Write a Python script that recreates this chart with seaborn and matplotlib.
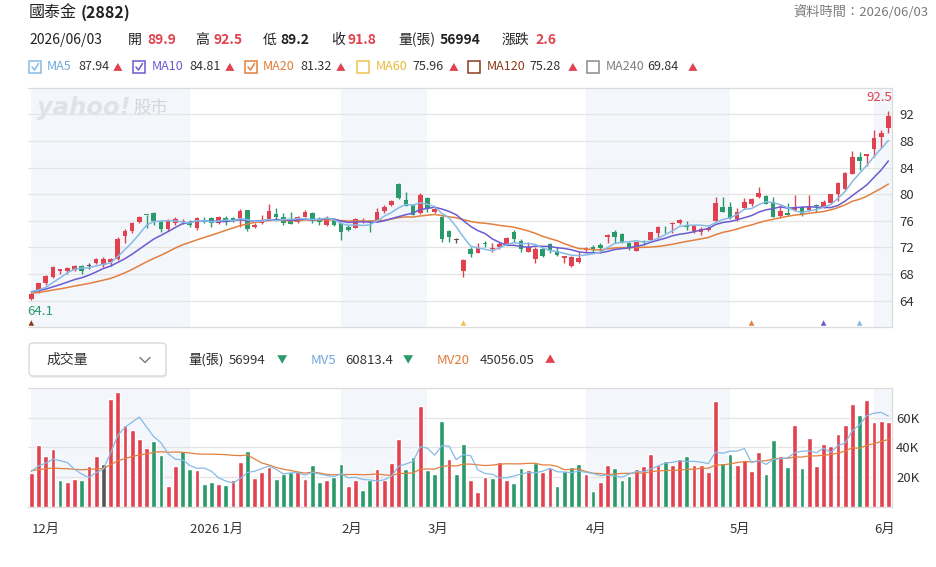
import numpy as np
import pandas as pd
import matplotlib
matplotlib.use("Agg")
import matplotlib.pyplot as plt
import matplotlib.transforms as mtransforms
from matplotlib.patches import Rectangle, FancyBboxPatch
from matplotlib.lines import Line2D
import seaborn as sns

# ---------------- data ----------------
open_ = [64.3, 65.4, 66.7, 67.5, 68.5, 68.4, 68.6, 69.15, 69.2, 69.6,
         69.3, 69.8, 70.2, 73.7, 74.5, 75.75, 76.9, 77.1, 75.8, 74.7,
         75.6, 75.75, 75.6, 74.85, 76.1, 76.45, 75.6, 76.45, 76.45, 76.35,
         77.6, 75.0, 75.6, 76.2, 77.0, 76.6, 76.1, 75.85, 76.6, 77.1,
         76.2, 75.35, 76.1, 75.7, 75.1, 74.95, 75.9, 76.0, 76.1, 77.5,
         78.4, 81.5, 79.2, 78.4, 77.1, 79.5, 77.3, 76.5, 74.45, 73.1,
         68.4, 71.75, 71.2, 72.65, 71.8, 72.1, 72.5, 74.25, 73.0, 71.35,
         70.2, 71.8, 72.45, 71.45, 70.45, 69.2, 69.85, 71.6, 72.1, 72.35,
         73.6, 74.35, 73.95, 72.6, 71.5, 72.9, 73.1, 74.1, 74.8, 75.45,
         75.6, 75.4, 74.5, 74.25, 74.65, 76.0, 78.15, 78.0, 76.25, 77.9,
         78.5, 79.6, 79.75, 78.9, 76.75, 77.1, 77.6, 78.1, 77.6, 78.25,
         78.0, 78.65, 80.0, 80.75, 83.1, 85.65, 85.75, 86.85, 88.6, 89.9]
high = [65.1, 66.7, 67.8, 69.2, 68.8, 69.0, 69.3, 69.3, 69.6, 70.4,
        70.6, 70.35, 73.5, 74.7, 75.85, 76.7, 76.9, 77.3, 76.1, 76.2,
        76.5, 76.2, 76.1, 76.6, 76.6, 76.6, 76.7, 76.7, 76.6, 77.7,
        77.6, 75.6, 76.85, 78.5, 77.85, 77.1, 77.3, 76.7, 77.6, 77.35,
        76.6, 76.7, 76.35, 75.85, 75.35, 76.45, 76.35, 76.1, 77.85, 78.35,
        79.2, 81.7, 80.35, 78.6, 80.2, 79.6, 78.2, 76.7, 74.6, 73.45,
        70.3, 72.1, 72.7, 73.0, 72.6, 72.85, 73.5, 74.6, 73.2, 72.75,
        72.1, 71.85, 72.6, 72.1, 70.75, 70.7, 71.35, 72.1, 72.35, 72.6,
        73.95, 74.6, 74.1, 72.85, 72.85, 73.1, 74.35, 75.2, 75.2, 75.75,
        76.3, 75.9, 75.25, 75.0, 75.15, 79.65, 79.65, 78.85, 77.85, 79.4,
        79.4, 81.1, 79.9, 79.6, 78.4, 78.75, 79.85, 78.25, 79.85, 78.5,
        79.1, 80.1, 81.9, 83.35, 86.5, 86.4, 86.05, 89.6, 89.6, 92.5]
low = [64.1, 65.2, 66.4, 67.4, 68.0, 68.0, 68.5, 68.0, 68.7, 69.5,
       69.1, 69.2, 70.1, 72.7, 74.1, 75.6, 74.85, 75.35, 74.35, 74.5,
       75.35, 75.45, 75.1, 74.6, 75.7, 75.0, 75.45, 75.35, 75.8, 75.1,
       74.5, 74.85, 75.5, 76.1, 76.2, 75.35, 75.45, 75.7, 76.5, 75.6,
       75.35, 75.25, 75.25, 73.1, 74.5, 74.85, 75.6, 74.35, 76.0, 77.2,
       78.2, 79.35, 78.2, 76.8, 77.0, 77.35, 77.1, 72.85, 72.85, 72.7,
       67.5, 70.6, 71.1, 72.1, 71.35, 71.7, 72.35, 72.85, 71.35, 71.25,
       69.7, 70.6, 71.2, 70.7, 69.6, 69.1, 69.7, 71.35, 71.2, 71.2,
       72.6, 72.6, 72.6, 71.6, 71.45, 72.3, 72.95, 73.35, 74.1, 74.1,
       75.45, 74.6, 74.1, 73.9, 74.5, 75.9, 77.25, 76.25, 76.0, 77.75,
       78.25, 79.5, 78.5, 76.5, 76.4, 76.85, 77.4, 76.75, 77.5, 77.25,
       77.9, 78.5, 79.0, 80.6, 83.0, 83.6, 84.25, 85.6, 87.0, 89.2]
close = [65.0, 66.6, 67.7, 69.0, 68.75, 68.95, 69.25, 68.5, 69.2, 70.2,
         70.2, 70.25, 73.25, 74.5, 75.6, 76.5, 76.85, 76.0, 74.8, 76.0,
         76.25, 76.0, 75.3, 76.45, 76.0, 75.6, 76.5, 76.0, 76.1, 77.5,
         74.7, 75.35, 76.1, 77.4, 76.6, 75.6, 75.5, 76.6, 77.25, 76.0,
         75.85, 76.45, 75.35, 74.35, 74.6, 76.2, 76.0, 75.85, 77.3, 78.1,
         79.0, 79.5, 78.3, 76.9, 79.85, 77.85, 77.75, 73.2, 73.6, 73.1,
         70.1, 71.0, 71.85, 72.55, 71.9, 72.45, 73.4, 73.3, 71.7, 72.1,
         71.75, 70.7, 71.5, 70.8, 70.7, 70.5, 70.35, 71.95, 71.75, 71.95,
         73.85, 73.5, 72.85, 72.1, 72.75, 72.8, 74.25, 75.0, 74.7, 75.7,
         76.15, 75.0, 75.15, 74.75, 74.95, 78.75, 77.35, 76.35, 77.35, 78.9,
         79.25, 80.25, 78.6, 76.6, 77.5, 76.9, 78.1, 77.0, 78.1, 78.2,
         78.9, 80.0, 81.75, 83.25, 85.65, 85.0, 86.0, 88.4, 89.2, 91.8]
# closes before the visible window (only used to start the moving averages)
prior_close = [64.2, 64.5, 64.9, 65.3, 65.0, 64.6, 64.8, 65.2, 65.5, 65.1,
               64.9, 65.3, 65.6, 65.4, 65.2, 65.5, 65.7, 65.3, 65.4]

# volume in thousands of 張
vol_k = [23.1, 41.6, 34.2, 38.9, 18.2, 16.9, 18.9, 18.2, 27.6, 34.2,
         28.7, 72.7, 77.1, 54.9, 51.6, 45.6, 39.8, 44.2, 34.9, 14.4,
         27.6, 37.6, 25.6, 24.9, 15.6, 16.9, 15.6, 14.9, 18.2, 30.2,
         37.6, 19.6, 23.6, 27.1, 18.9, 22.2, 23.3, 24.2, 18.9, 28.2,
         16.9, 18.2, 20.4, 28.9, 14.4, 18.2, 11.6, 18.2, 25.6, 18.2,
         29.8, 45.6, 25.6, 33.8, 67.8, 24.9, 22.2, 57.6, 32.2, 22.2,
         42.2, 18.2, 10.4, 20.0, 19.8, 30.4, 18.2, 16.4, 26.4, 24.9,
         29.3, 23.8, 26.4, 14.4, 24.2, 27.1, 28.9, 22.2, 10.9, 17.1,
         28.2, 26.4, 18.2, 21.1, 25.6, 27.6, 35.6, 28.2, 30.9, 28.2,
         32.2, 34.2, 28.2, 28.2, 23.3, 71.1, 29.8, 35.6, 28.2, 31.6,
         24.2, 37.1, 22.2, 44.9, 34.2, 26.9, 54.9, 26.4, 46.4, 27.8,
         42.2, 41.1, 48.9, 54.9, 69.3, 62.0, 71.6, 57.1, 57.6, 56.994]
prior_vol_k = [26.0, 22.5, 30.1, 24.8, 19.6, 27.3, 23.4, 21.8, 28.6, 25.2,
               20.7, 24.1, 26.9, 22.3, 25.5, 23.9, 24.6, 25.8, 23.0]
# volume bar colour: u = up (red), d = down (green), n = unchanged
vol_dir = list("uuuuduuduu" "nuuuuuuddu" "uddudduduu" "duuuddduud"
               "dudduudduu" "uuddudddud" "duuuduuddu" "duuddddudu"
               "uddduuuudu" "uduuuudduu" "uuddududuu" "uuuuuduuuu")

months = ["12月", "2026 1月", "2月", "3月", "4月", "5月", "6月"]
month_start = [0, 22, 43, 55, 77, 97, 117]
shaded_months = [0, 2, 4, 6]

price_ticks = [64, 68, 72, 76, 80, 84, 88, 92]
vol_ticks = [20, 40, 60]
vol_tick_labels = ["20K", "40K", "60K"]

signal_idx = [0, 60, 100, 110, 115]
signal_ma = ["MA120", "MA60", "MA20", "MA10", "MA5"]

stock_title = "國泰金"
stock_code = "(2882)"
data_time = "資料時間：2026/06/03"
quote_date = "2026/06/03"
quote_labels = ["開", "高", "低", "收", "量(張)", "漲跌"]
quote_values = ["89.9", "92.5", "89.2", "91.8", "56994", "2.6"]
quote_trend = ["u", "u", "n", "u", "n", "u"]

ma_names = ["MA5", "MA10", "MA20", "MA60", "MA120", "MA240"]
ma_last = ["87.94", "84.81", "81.32", "75.96", "75.28", "69.84"]
ma_checked = [True, True, True, False, False, False]

vol_labels = ["量(張)", "MV5", "MV20"]
vol_values = ["56994", "60813.4", "45056.05"]
vol_trend = ["d", "d", "u"]

# ---------------- style ----------------
RED = "#e0424f"
GREEN = "#2a9a6b"
GRAY = "#555555"
BAND = "#f3f6fa"
GRID = "#e4e4e4"
TXT = "#222222"
MA_COLORS = {"MA5": "#86bbe6", "MA10": "#6a5bd0", "MA20": "#e3803f",
             "MA60": "#f0c24e", "MA120": "#8b3a1c", "MA240": "#8a8a8a"}
MA_TEXT = {"MA5": "#6fa8dc", "MA10": "#6a5bd0", "MA20": "#e07b39",
           "MA60": "#eab83a", "MA120": "#8b3a1c", "MA240": "#808080"}
TREND_COL = {"u": RED, "d": GREEN, "n": TXT}
ARROW = {"u": "▲", "d": "▼"}

sns.set_style("white")
plt.rcParams["font.family"] = ["Noto Sans CJK TC", "DejaVu Sans"]

W, H, DPI = 937, 567, 100
fig = plt.figure(figsize=(W / DPI, H / DPI), dpi=DPI)
fig.patch.set_facecolor("white")
PX = mtransforms.Affine2D().scale(1, -1).translate(0, H).scale(1 / DPI) + fig.dpi_scale_trans

n = len(close)
idx = np.arange(n)
o = np.array(open_); h = np.array(high); l = np.array(low); c = np.array(close)

ma = {}
allc = pd.Series(prior_close + close)
for name, w in [("MA5", 5), ("MA10", 10), ("MA20", 20)]:
    ma[name] = allc.rolling(w).mean().to_numpy()[len(prior_close):]
allv = pd.Series(prior_vol_k + vol_k)
mv5 = allv.rolling(5).mean().to_numpy()[len(prior_vol_k):]
mv20 = allv.rolling(20).mean().to_numpy()[len(prior_vol_k):]

X0, X1 = 28, 892
axp = fig.add_axes([X0 / W, 1 - 327.3 / H, (X1 - X0) / W, 239.6 / H])
axv = fig.add_axes([X0 / W, 1 - 507.3 / H, (X1 - X0) / W, 119.6 / H])
XLIM = (-0.46, 119.5)

for ax in (axp, axv):
    for k in shaded_months:
        s = month_start[k]
        e = month_start[k + 1] if k + 1 < len(month_start) else XLIM[1] + 1
        ax.axvspan(s, e, color=BAND, zorder=0, lw=0)

# ---- price panel ----
cand_col = [RED if cc > oo else (GREEN if cc < oo else GRAY) for oo, cc in zip(o, c)]
axp.vlines(idx, l, h, colors=cand_col, lw=1.0, zorder=3)
body_bot = np.minimum(o, c)
body_h = np.maximum(np.abs(c - o), 0.13)
axp.bar(idx, body_h, bottom=body_bot, width=0.64, color=cand_col, lw=0, zorder=4)

for name in ["MA20", "MA10", "MA5"]:
    sns.lineplot(x=idx, y=ma[name], ax=axp, color=MA_COLORS[name], lw=1.1,
                 estimator=None, legend=False, zorder=5)

imax = int(np.argmax(h)); imin = int(np.argmin(l))
axp.annotate(f"{h[imax]:.1f}", (imax, h[imax]), xytext=(4, 13), textcoords="offset pixels",
             ha="right", va="center", color=RED, fontsize=9.5, zorder=6)
axp.annotate(f"{l[imin]:.1f}", (imin, l[imin]), xytext=(-4, -11), textcoords="offset pixels",
             ha="left", va="center", color=GREEN, fontsize=9.5, zorder=6)

bt = mtransforms.blended_transform_factory(axp.transData, axp.transAxes)
axp.scatter(signal_idx, [0.018] * len(signal_idx), transform=bt, marker="^", s=16,
            c=[MA_COLORS[m] for m in signal_ma], lw=0, zorder=6, clip_on=False)

axp.set_xlim(*XLIM)
axp.set_ylim(60, 96)
axp.set_yticks(price_ticks)
axp.yaxis.tick_right()
axp.tick_params(axis="y", length=0, pad=5, labelsize=9.5, labelcolor="#333333")
axp.set_xticks([])
axp.grid(axis="y", color=GRID, lw=0.9)
axp.set_axisbelow(True)
axp.set_xlabel(""); axp.set_ylabel("")
axp.spines["left"].set_visible(False)
for sp in ["top", "bottom", "right"]:
    axp.spines[sp].set_color("#dcdcdc"); axp.spines[sp].set_linewidth(0.9)

# watermark
fig.text(37, 108, "yahoo!", transform=PX, fontsize=17.5, fontweight="bold", style="italic",
         color="#dfe2e6", va="center", ha="left", family="DejaVu Sans", zorder=1)
fig.text(133, 108, "股市", transform=PX, fontsize=12.5, color="#d3d6db", va="center", ha="left")

# ---- volume panel ----
vdf = pd.DataFrame({"i": idx, "v": vol_k, "d": vol_dir})
sns.barplot(data=vdf, x="i", y="v", hue="d", palette={"u": RED, "d": GREEN, "n": GRAY},
            dodge=False, width=0.66, saturation=1, legend=False, errorbar=None, ax=axv, zorder=3)
sns.lineplot(x=idx, y=mv20, ax=axv, color=MA_COLORS["MA20"], lw=0.9, estimator=None, legend=False, zorder=5)
sns.lineplot(x=idx, y=mv5, ax=axv, color=MA_COLORS["MA5"], lw=0.9, estimator=None, legend=False, zorder=5)
axv.set_xlim(*XLIM)
axv.set_ylim(0, 80)
axv.set_yticks(vol_ticks)
axv.set_yticklabels(vol_tick_labels)
axv.yaxis.tick_right()
axv.tick_params(axis="y", length=0, pad=3, labelsize=9.5, labelcolor="#333333")
axv.set_xticks([])
axv.grid(axis="y", color=GRID, lw=0.9)
axv.set_axisbelow(True)
axv.set_xlabel(""); axv.set_ylabel("")
axv.spines["left"].set_visible(False)
for sp in ["top", "bottom", "right"]:
    axv.spines[sp].set_color("#dcdcdc"); axv.spines[sp].set_linewidth(0.9)

mt = mtransforms.blended_transform_factory(axv.transData, fig.transFigure)
for lab, s in zip(months, month_start):
    axv.text(s, 1 - 529 / H, lab, transform=mt, ha="left", va="center", fontsize=9.5,
             color="#333333", clip_on=False)

# ---------------- header ----------------
fig.text(29, 13, stock_title, transform=PX, fontsize=11.5, color=TXT, va="center")
fig.text(81, 13, stock_code, transform=PX, fontsize=11.5, color=TXT, va="center", fontweight="bold")
fig.text(929, 12, data_time, transform=PX, fontsize=9.5, color="#7a7a7a", va="center", ha="right")

fig.text(29, 40, quote_date, transform=PX, fontsize=10, color=TXT, va="center")
q_lab_x = [128, 195, 263, 331, 398, 502]
q_val_x = [147, 213, 280, 348, 440, 535]
for lx, vx, lab, val, tr in zip(q_lab_x, q_val_x, quote_labels, quote_values, quote_trend):
    fig.text(lx, 40, lab, transform=PX, fontsize=10, color=TXT, va="center")
    fig.text(vx, 40, val, transform=PX, fontsize=10, color=TREND_COL[tr], va="center", fontweight="bold")

box_x = [29, 133, 245, 357, 468, 587]
name_x = [47, 152, 263, 376, 487, 606]
val_x = [78, 189, 300, 412, 529, 647]
arr_x = [113, 225, 336, 449, 568, 688]
for bx, nx, vx, ax_, name, val, chk in zip(box_x, name_x, val_x, arr_x, ma_names, ma_last, ma_checked):
    col = MA_COLORS[name]
    fig.add_artist(Rectangle((bx, 61), 12, 12, transform=PX, fc="white", ec=col, lw=1.1))
    if chk:
        fig.add_artist(Line2D([bx + 3, bx + 5.5, bx + 9.5], [67, 70, 63.5], transform=PX,
                              color=col, lw=1.1))
    fig.text(nx, 67, name, transform=PX, fontsize=9, color=MA_TEXT[name], va="center")
    fig.text(vx, 67, val, transform=PX, fontsize=9, color="#333333", va="center")
    fig.text(ax_, 67, "▲", transform=PX, fontsize=7, color=RED, va="center")

# dropdown
fig.add_artist(FancyBboxPatch((30, 345), 137, 33, boxstyle="round,pad=0,rounding_size=4",
                              transform=PX, fc="#f0f0f0", ec="none"))
fig.add_artist(FancyBboxPatch((29, 343), 137, 33, boxstyle="round,pad=0,rounding_size=4",
                              transform=PX, fc="white", ec="#d9d9d9", lw=1))
fig.text(46, 360, "成交量", transform=PX, fontsize=10, color="#333333", va="center")
fig.add_artist(Line2D([140, 145, 150], [357.5, 362.5, 357.5], transform=PX, color="#777777", lw=1))

vl_x = [188, 311, 437]
vv_x = [229, 345, 480]
va_x = [277, 403, 545]
vl_col = [TXT, MA_TEXT["MA5"], MA_TEXT["MA20"]]
for lx, vx, axx, lab, val, tr, lc in zip(vl_x, vv_x, va_x, vol_labels, vol_values, vol_trend, vl_col):
    fig.text(lx, 360, lab, transform=PX, fontsize=9.5, color=lc, va="center")
    fig.text(vx, 360, val, transform=PX, fontsize=9.5, color="#333333", va="center")
    fig.text(axx, 360, ARROW[tr], transform=PX, fontsize=7.5, color=TREND_COL[tr], va="center")

fig.savefig("out.png", dpi=DPI, facecolor="white")
